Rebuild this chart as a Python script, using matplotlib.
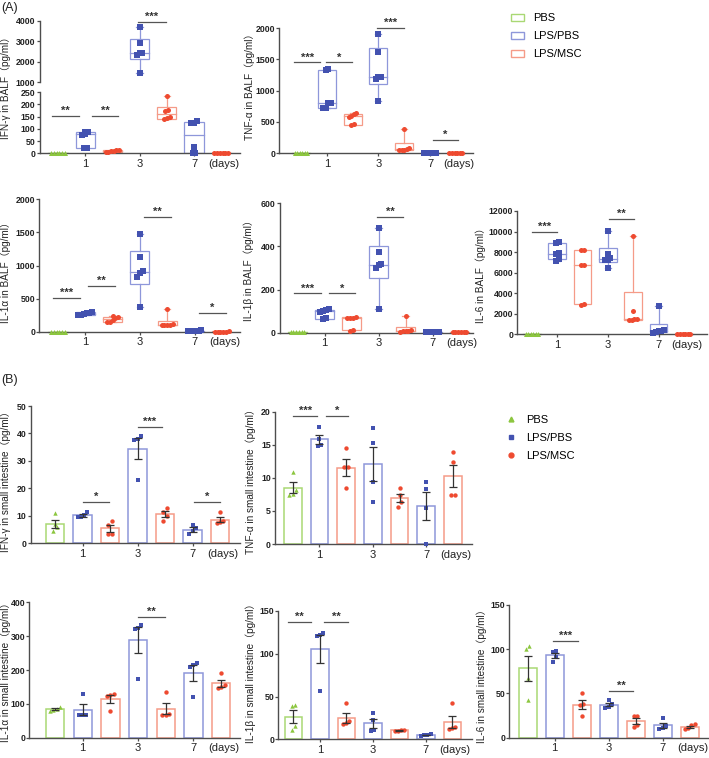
import numpy as np
import matplotlib.pyplot as plt
from matplotlib.patches import Rectangle, Patch
from matplotlib.lines import Line2D

plt.rcParams['font.family'] = ['Liberation Sans', 'Noto Sans CJK SC', 'DejaVu Sans']

W, H = 709, 758

GROUPS = ["PBS", "LPS/PBS", "LPS/MSC"]
DAYS = ["1", "3", "7"]
# column order on every x axis: PBS, LPS/PBS d1, LPS/MSC d1, LPS/PBS d3, LPS/MSC d3, LPS/PBS d7, LPS/MSC d7
COL_GROUP = [0, 1, 2, 1, 2, 1, 2]

# ---- (A) cytokines in BALF, 6 mice per column ----
ifng_balf = [[0, 0, 0, 0, 0, 0], [85, 80, 75, 88, 20, 20], [15, 12, 10, 8, 6, 5],
             [3670, 2920, 2430, 2400, 2320, 1460], [232, 177, 172, 150, 142, 140],
             [130, 125, 125, 25, 2, 2], [0, 0, 0, 0, 0, 0]]
tnfa_balf = [[0, 0, 0, 0, 0, 0], [1330, 1340, 810, 800, 720, 720], [650, 620, 600, 580, 460, 450],
             [1900, 1610, 1220, 1210, 1190, 840], [390, 80, 65, 60, 55, 50],
             [10, 8, 6, 5, 3, 2], [2, 2, 1, 1, 0, 0]]
il1a_balf = [[0, 0, 0, 0, 0, 0], [295, 290, 275, 265, 255, 250], [240, 220, 200, 180, 150, 140],
             [1480, 1130, 910, 890, 830, 380], [345, 110, 105, 100, 98, 95],
             [20, 15, 12, 10, 5, 5], [5, 3, 2, 2, 1, 0]]
il1b_balf = [[5, 5, 5, 5, 5, 5], [110, 105, 100, 97, 66, 63], [72, 70, 70, 68, 12, 10],
             [484, 376, 317, 314, 301, 108], [77, 12, 10, 8, 6, 5],
             [5, 4, 4, 3, 3, 3], [4, 3, 3, 2, 2, 2]]
il6_balf = [[0, 0, 0, 0, 0, 0], [9020, 8850, 7880, 7820, 7330, 7140], [8200, 8200, 6750, 6700, 2920, 2900],
            [10090, 7820, 7390, 7270, 7250, 6420], [9600, 2250, 1500, 1450, 1400, 1350],
            [2800, 400, 350, 300, 250, 150], [0, 0, 0, 0, 0, 0]]

# ---- (B) cytokines in small intestine, 4 mice per column ----
ifng_si = [[11, 7, 6, 4.5], [11.3, 10.3, 9.7, 9.4], [8.3, 6.5, 3.5, 3.3], [39, 38, 37.5, 23],
           [13, 11.3, 10, 8], [6.8, 5.5, 4.5, 3.3], [11.3, 8.0, 7.6, 7.3]]
tnfa_si = [[10.9, 8.2, 7.5, 7.4], [17.7, 15.9, 15.0, 14.8], [14.5, 11.7, 11.6, 8.4], [17.6, 15.2, 9.3, 6.4],
           [8.4, 7.4, 6.4, 5.6], [9.3, 8.3, 5.5, 0.0], [13.9, 12.4, 7.4, 7.4]]
il1a_si = [[90, 86, 82, 80], [130, 68, 67, 66], [128, 125, 122, 80], [332, 325, 322, 172],
           [136, 70, 68, 68], [222, 214, 210, 120], [192, 155, 150, 148]]
il1b_si = [[40, 39, 15, 11], [124, 121, 122, 57], [43, 21, 19, 18], [31, 22, 11, 10],
           [11, 10.5, 10, 10], [6, 5, 4.5, 4], [42, 14, 13, 12]]
il6_si = [[103.6, 99.8, 68, 42.6], [98, 97, 91, 86], [50, 38, 37, 24.5], [43, 38, 35, 34],
          [25, 24.5, 14, 12.5], [22, 13, 10.5, 10], [15, 14, 10.5, 9.5]]

# significance marks: (from column, to column, height, label)
sig_ifng_balf_lo = [(-0.23, 0.77, 152, "**"), (1.24, 2.22, 152, "**")]
sig_ifng_balf_hi = [(2.95, 3.96, 3950, "***")]
sig_tnfa_balf = [(-0.26, 0.74, 1450, "***"), (0.97, 1.96, 1450, "*"), (2.93, 4.0, 2000, "***"), (5.13, 6.07, 213, "*")]
sig_il1a_balf = [(-0.17, 0.81, 514, "***"), (1.11, 2.1, 696, "**"), (3.16, 4.14, 1730, "**"), (5.16, 6.17, 277, "*")]
sig_il1b_balf = [(-0.12, 0.86, 182, "***"), (1.17, 2.13, 182, "*"), (2.93, 3.92, 535, "**")]
sig_il6_balf = [(-0.01, 0.98, 9924, "***"), (3.04, 4.04, 11220, "**")]
sig_ifng_si = [(1.0, 1.97, 15, "*"), (3.0, 3.9, 42.5, "***"), (5.07, 6.0, 15, "*")]
sig_tnfa_si = [(0.02, 0.92, 19.3, "***"), (1.25, 2.08, 19.3, "*")]
sig_il1a_si = [(3.0, 3.97, 358, "**")]
sig_il1b_si = [(-0.21, 0.67, 137.5, "**"), (1.17, 2.05, 137.5, "**")]
sig_il6_si = [(0.95, 1.87, 109.7, "***"), (3.01, 3.91, 53, "**")]

POINT_COL = ["#8CC63F", "#4352B0", "#EE4A30"]
EDGE_COL = ["#A9D874", "#8E97DA", "#F59B88"]
MARKERS = ["^", "s", "o"]
AX_COL = "#4d4d4d"

fig = plt.figure(figsize=(W / 100, H / 100), dpi=100)


def add_ax(l, t, r, b, x0, step, yticks, xaxis=True):
    # axes placed in pixel coordinates of the original figure
    ax = fig.add_axes([l / W, 1 - b / H, (r - l) / W, (b - t) / H])
    ax.patch.set_visible(False)
    ax.set_xlim((l - x0) / step, (r - x0) / step)
    ax.set_ylim(yticks[0], yticks[-1])
    for s in ("top", "right"):
        ax.spines[s].set_visible(False)
    for s in ("left", "bottom"):
        ax.spines[s].set_color(AX_COL)
        ax.spines[s].set_linewidth(1.0)
    ax.tick_params(colors=AX_COL, width=0.9, direction="out")
    ax.set_yticks(yticks, [f"{t:g}" for t in yticks], fontsize=6.3, fontweight="bold", color="#222")
    ax.tick_params(axis="y", length=2, pad=1)
    if xaxis:
        ax.set_xticks([1, 3, 5], DAYS, fontsize=8, color="#222")
        ax.tick_params(axis="x", length=2.5, pad=1.5)
        ax.annotate("(days)", xy=(6.1, 0), xycoords=("data", "axes fraction"), xytext=(0, -4),
                    textcoords="offset points", ha="center", va="top", fontsize=8, color="#222")
    else:
        ax.spines["bottom"].set_visible(False)
        ax.set_xticks([])
    return ax


def spread(v, tol, step):
    # put points of similar value side by side
    order = np.argsort(v)
    offs = np.zeros(len(v))
    clusters, cur = [], [order[0]]
    for i in order[1:]:
        if v[i] - v[cur[0]] <= tol:
            cur.append(i)
        else:
            clusters.append(cur)
            cur = [i]
    clusters.append(cur)
    for c in clusters:
        offs[c] = (np.arange(len(c)) - (len(c) - 1) / 2) * step
    return offs


def draw_box(ax, x, vals, g, clip=False, keep=None):
    v = np.asarray(vals, float)
    q1, med, q3 = np.percentile(v, [25, 50, 75], method="weibull")
    ec = EDGE_COL[g]
    kw = dict(color=ec, lw=0.9, clip_on=clip, zorder=2)
    ax.add_patch(Rectangle((x - 0.35, q1), 0.7, q3 - q1, fill=False, ec=ec, lw=0.9, clip_on=clip, zorder=2))
    ax.plot([x - 0.35, x + 0.35], [med, med], **kw)
    ax.plot([x, x], [q3, v.max()], **kw)
    ax.plot([x, x], [v.min(), q1], **kw)
    ax.plot([x - 0.12, x + 0.12], [v.max()] * 2, **kw)
    ax.plot([x - 0.12, x + 0.12], [v.min()] * 2, **kw)
    lo, hi = ax.get_ylim()
    dx = spread(v, 0.045 * (hi - lo), 0.1)
    m = np.ones(len(v), bool) if keep is None else (v >= keep[0]) & (v <= keep[1])
    ax.scatter(x + dx[m], v[m], s=13, marker=MARKERS[g], color=POINT_COL[g], lw=0, clip_on=False, zorder=4)


def draw_bar(ax, x, vals, g):
    v = np.asarray(vals, float)
    mean = v.mean()
    sem = v.std(ddof=1) / np.sqrt(len(v))
    ax.bar(x, mean, width=0.66, fill=False, edgecolor=EDGE_COL[g], lw=1.1, zorder=2)
    ax.errorbar(x, mean, yerr=sem, fmt="none", ecolor="#333", elinewidth=0.9, capsize=3,
                capthick=0.9, zorder=5, clip_on=False)
    lo, hi = ax.get_ylim()
    dx = spread(v, 0.045 * (hi - lo), 0.12)
    ax.scatter(x + dx, v, s=10, marker=MARKERS[g], color=POINT_COL[g], lw=0, clip_on=False, zorder=4)


def draw_sig(ax, sigs):
    for x0, x1, y, txt in sigs:
        ax.plot([x0, x1], [y, y], color="#555", lw=0.9, clip_on=False)
        ax.annotate(txt, xy=((x0 + x1) / 2, y), xytext=(0, 1.5), textcoords="offset points",
                    ha="center", va="baseline", fontsize=8, fontweight="bold", color="#333")


def ylabel(x, y, txt):
    fig.text(x / W, 1 - y / H, txt, rotation=90, ha="center", va="center", fontsize=7.2, color="#222")


def box_panel(ax, data, sigs):
    for i, vals in enumerate(data):
        draw_box(ax, i, vals, COL_GROUP[i])
    draw_sig(ax, sigs)


def bar_panel(ax, data, sigs):
    for i, vals in enumerate(data):
        draw_bar(ax, i, vals, COL_GROUP[i])
    draw_sig(ax, sigs)


# ---------------- (A) ----------------
ax_hi = add_ax(39.5, 20.7, 240, 82, 58, 27.2, [1000, 2000, 3000, 4000], xaxis=False)
ax_lo = add_ax(39.5, 92, 240, 153.3, 58, 27.2, [0, 50, 100, 150, 200, 250])
for i, vals in enumerate(ifng_balf):
    draw_box(ax_hi, i, vals, COL_GROUP[i], clip=True, keep=(1000, 4000))
    draw_box(ax_lo, i, vals, COL_GROUP[i], clip=True, keep=(0, 250))
draw_sig(ax_lo, sig_ifng_balf_lo)
draw_sig(ax_hi, sig_ifng_balf_hi)
ylabel(6, 85, "IFN-γ in BALF（pg/ml）")

ax = add_ax(279.3, 28, 473, 153.3, 301, 25.8, [0, 500, 1000, 1500, 2000])
box_panel(ax, tnfa_balf, sig_tnfa_balf)
ylabel(250, 84, "TNF-α in BALF（pg/ml）")

ax = add_ax(39.3, 199.3, 240, 331.7, 58, 27.3, [0, 500, 1000, 1500, 2000])
box_panel(ax, il1a_balf, sig_il1a_balf)
ylabel(6, 270, "IL-1α in BALF（pg/ml）")

ax = add_ax(280, 203.3, 473, 332.7, 297.5, 27, [0, 200, 400, 600])
box_panel(ax, il1b_balf, sig_il1b_balf)
ylabel(249, 268, "IL-1β in BALF（pg/ml）")

ax = add_ax(517.3, 211, 707, 334.3, 532, 25.3, [0, 2000, 4000, 6000, 8000, 10000, 12000])
box_panel(ax, il6_balf, sig_il6_balf)
ylabel(481, 273, "IL-6 in BALF（pg/ml）")

fig.legend([Patch(facecolor="none", edgecolor=c, lw=1) for c in EDGE_COL], GROUPS,
           loc="upper left", bbox_to_anchor=(511 / W, 1 - 13 / H), frameon=False, fontsize=8,
           handlelength=1.2, handleheight=0.6, handletextpad=0.8, labelspacing=0.72,
           borderpad=0, borderaxespad=0)

# ---------------- (B) ----------------
ax = add_ax(30.7, 406, 240, 543.3, 55, 27.5, [0, 10, 20, 30, 40, 50])
bar_panel(ax, ifng_si, sig_ifng_si)
ylabel(5.5, 479, "IFN-γ in small intestine（pg/ml）")

ax = add_ax(275, 411.7, 472, 544, 292.7, 26.7, [0, 5, 10, 15, 20])
bar_panel(ax, tnfa_si, sig_tnfa_si)
ylabel(251, 479, "TNF-α in small intestine（pg/ml）")

ax = add_ax(29.3, 602.3, 240, 737.7, 55, 27.7, [0, 100, 200, 300, 400])
bar_panel(ax, il1a_si, sig_il1a_si)
ylabel(5.5, 670, "IL-1α in small intestine（pg/ml）")

ax = add_ax(278.3, 611, 472, 739.3, 293.3, 26.5, [0, 50, 100, 150])
bar_panel(ax, il1b_si, sig_il1b_si)
ylabel(251, 671, "IL-1β in small intestine（pg/ml）")

ax = add_ax(509.3, 605, 708, 737.7, 527.7, 27, [0, 50, 100, 150])
bar_panel(ax, il6_si, sig_il6_si)
ylabel(482, 674, "IL-6 in small intestine（pg/ml）")

fig.legend([Line2D([], [], ls="none", marker=m, color=c, markersize=3.5) for m, c in zip(MARKERS, POINT_COL)],
           GROUPS, loc="upper left", bbox_to_anchor=(505 / W, 1 - 415 / H), frameon=False, fontsize=8,
           handlelength=1.0, handletextpad=0.9, labelspacing=0.72, borderpad=0, borderaxespad=0)

fig.text(1 / W, 1 - 2 / H, "(A)", ha="left", va="top", fontsize=9, color="#222")
fig.text(1 / W, 1 - 374 / H, "(B)", ha="left", va="top", fontsize=9, color="#222")

fig.savefig("out.png", dpi=100, facecolor="white")
